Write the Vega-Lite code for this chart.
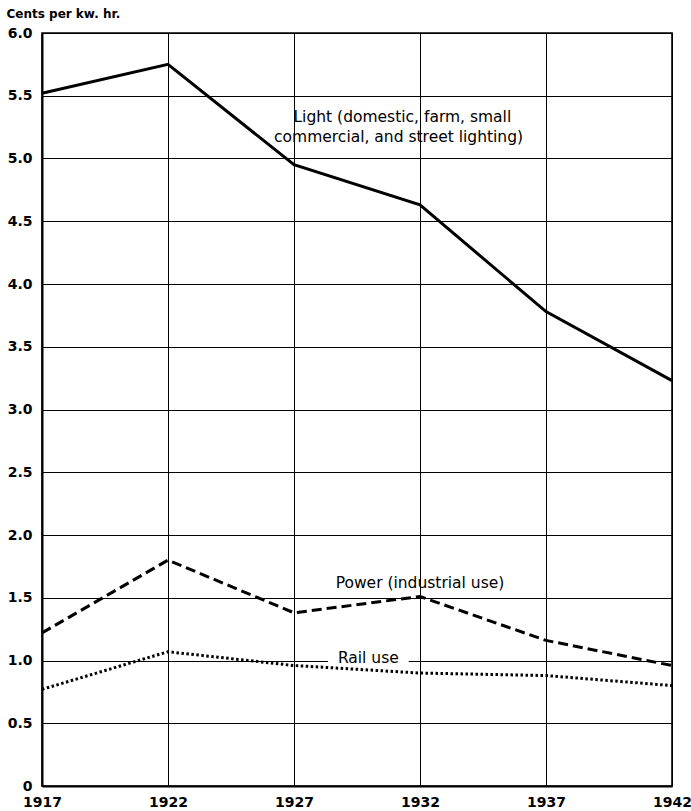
{
  "$schema": "https://vega.github.io/schema/vega-lite/v6.json",
  "autosize": "none",
  "width": 630,
  "height": 753,
  "padding": {"left": 42, "top": 33, "right": 19, "bottom": 25},
  "background": "white",
  "config": {
    "view": {"stroke": "black", "strokeWidth": 1.6},
    "font": "DejaVu Sans"
  },
  "datasets": {
    "series": [
      {"year": 1917, "series": "Light", "cents": 5.52},
      {"year": 1922, "series": "Light", "cents": 5.75},
      {"year": 1927, "series": "Light", "cents": 4.95},
      {"year": 1932, "series": "Light", "cents": 4.63},
      {"year": 1937, "series": "Light", "cents": 3.78},
      {"year": 1942, "series": "Light", "cents": 3.23},
      {"year": 1917, "series": "Power", "cents": 1.22},
      {"year": 1922, "series": "Power", "cents": 1.8},
      {"year": 1927, "series": "Power", "cents": 1.38},
      {"year": 1932, "series": "Power", "cents": 1.51},
      {"year": 1937, "series": "Power", "cents": 1.16},
      {"year": 1942, "series": "Power", "cents": 0.96},
      {"year": 1917, "series": "Rail", "cents": 0.77},
      {"year": 1922, "series": "Rail", "cents": 1.07},
      {"year": 1927, "series": "Rail", "cents": 0.96},
      {"year": 1932, "series": "Rail", "cents": 0.9},
      {"year": 1937, "series": "Rail", "cents": 0.88},
      {"year": 1942, "series": "Rail", "cents": 0.8}
    ],
    "labels": [
      {"text": "Light (domestic, farm, small", "x": 1931.3, "y": 5.33},
      {"text": "commercial, and street lighting)", "x": 1931.15, "y": 5.17},
      {"text": "Power (industrial use)", "x": 1932.0, "y": 1.62},
      {"text": "Rail use", "x": 1929.95, "y": 1.02}
    ],
    "gap": [{"x1": 1928.35, "x2": 1931.55, "y1": 0.985, "y2": 1.06}]
  },
  "layer": [
    {
      "data": {"name": "gap"},
      "mark": {"type": "rect", "fill": "white", "zindex": 1},
      "encoding": {
        "x": {"field": "x1", "type": "quantitative", "scale": {"domain": [1917, 1942], "nice": false, "zero": false},
          "axis": {"values": [1917, 1922, 1927, 1932, 1937, 1942], "format": "d", "title": null, "grid": true, "gridColor": "black", "gridWidth": 1, "gridOpacity": 1, "ticks": false, "domain": true, "domainColor": "black", "domainWidth": 2, "labelFlush": false, "labelFont": "DejaVu Sans", "labelFontWeight": "bold", "labelFontSize": 14, "labelColor": "black", "labelPadding": 9}},
        "x2": {"field": "x2"},
        "y": {"field": "y1", "type": "quantitative", "scale": {"domain": [0, 6], "nice": false},
          "axis": {"values": [0, 0.5, 1, 1.5, 2, 2.5, 3, 3.5, 4, 4.5, 5, 5.5, 6], "labelExpr": "datum.value == 0 ? '0' : format(datum.value, '.1f')", "title": "Cents per kw. hr.", "titleAngle": 0, "titleAlign": "left", "titleBaseline": "alphabetic", "titleX": -36, "titleY": -16, "titleFont": "DejaVu Sans", "titleFontSize": 12, "titleFontWeight": "bold", "titleColor": "black", "grid": true, "gridColor": "black", "gridWidth": 1, "gridOpacity": 1, "ticks": false, "domain": true, "domainColor": "black", "domainWidth": 2, "labelFont": "DejaVu Sans", "labelFontWeight": "bold", "labelFontSize": 14, "labelColor": "black", "labelPadding": 10}},
        "y2": {"field": "y2"}
      }
    },
    {
      "data": {"name": "series"},
      "transform": [{"filter": "datum.series == 'Light'"}],
      "mark": {"type": "line", "color": "black", "strokeWidth": 3, "zindex": 2},
      "encoding": {
        "x": {"field": "year", "type": "quantitative"},
        "y": {"field": "cents", "type": "quantitative"}
      }
    },
    {
      "data": {"name": "series"},
      "transform": [{"filter": "datum.series == 'Power'"}],
      "mark": {"type": "line", "color": "black", "strokeWidth": 3, "strokeDash": [10, 5], "zindex": 2},
      "encoding": {
        "x": {"field": "year", "type": "quantitative"},
        "y": {"field": "cents", "type": "quantitative"}
      }
    },
    {
      "data": {"name": "series"},
      "transform": [{"filter": "datum.series == 'Rail'"}],
      "mark": {"type": "line", "color": "black", "strokeWidth": 3, "strokeDash": [2.5, 2.5], "zindex": 2},
      "encoding": {
        "x": {"field": "year", "type": "quantitative"},
        "y": {"field": "cents", "type": "quantitative"}
      }
    },
    {
      "data": {"name": "labels"},
      "mark": {"type": "text", "font": "DejaVu Sans", "fontSize": 15.5, "color": "black", "align": "center", "baseline": "middle", "zindex": 2},
      "encoding": {
        "x": {"field": "x", "type": "quantitative"},
        "y": {"field": "y", "type": "quantitative"},
        "text": {"field": "text"}
      }
    }
  ]
}
